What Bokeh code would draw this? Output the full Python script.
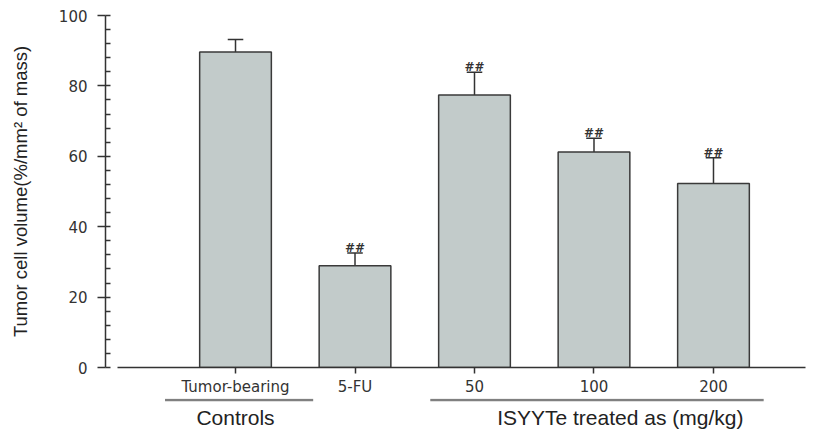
from bokeh.plotting import figure
from bokeh.layouts import column
from bokeh.models import Range1d, FixedTicker, SingleIntervalTicker, ColumnDataSource
from bokeh.core.properties import value
from bokeh.embed import file_html
from bokeh.resources import INLINE

# ---- data ----
categories = ["Tumor-bearing", "5-FU", "50", "100", "200"]
tumor_volume = [89.6, 28.9, 77.4, 61.2, 52.3]
sem = [3.6, 3.6, 6.5, 3.9, 7.3]
significance = ["", "##", "##", "##", "##"]
group_names = ["Controls", "ISYYTe treated as (mg/kg)"]
group_first = [0, 2]
group_last = [0, 4]
y_ticks = [0, 20, 40, 60, 80, 100]

xs = list(range(len(categories)))
err_top = [v + e for v, e in zip(tumor_volume, sem)]

X_START, X_END = -1.088, 4.77
x_range = Range1d(X_START, X_END)
DARK = "#333333"

p = figure(width=820, height=398, x_range=x_range, y_range=Range1d(y_ticks[0], y_ticks[-1]),
           output_backend="svg", toolbar_location=None,
           min_border_left=105, min_border_right=15, min_border_top=15, min_border_bottom=29)
p.outline_line_color = None
p.grid.grid_line_color = None

src = ColumnDataSource(dict(x=xs, top=tumor_volume, err=err_top, sig=significance,
                            cap0=[x - 0.065 for x in xs], cap1=[x + 0.065 for x in xs]))

p.segment(x0="x", y0="top", x1="x", y1="err", source=src, line_color=DARK, line_width=1.5)
p.segment(x0="cap0", y0="err", x1="cap1", y1="err", source=src, line_color=DARK, line_width=1.5)
p.vbar(x="x", top="top", width=0.6, bottom=0, source=src,
       fill_color="#c2cbca", line_color="#3a3a3a", line_width=1.5)
p.text(x="x", y="err", text="sig", source=src, text_align="center", text_baseline="middle",
       y_offset=-5, text_font_size="12px", text_font_style="bold", text_color=DARK,
       text_font=value("DejaVu Sans"))

# y axis
ya = p.yaxis[0]
ya.ticker = SingleIntervalTicker(interval=20, num_minor_ticks=5)
ya.major_tick_out = 8
ya.major_tick_in = 0
ya.minor_tick_in = 5
ya.minor_tick_out = 0
ya.axis_line_width = 1.5
ya.major_tick_line_width = 1.5
ya.minor_tick_line_width = 1.5
ya.axis_line_color = DARK
ya.major_tick_line_color = DARK
ya.minor_tick_line_color = DARK
ya.major_label_text_font = "DejaVu Sans"
ya.major_label_text_font_size = "15px"
ya.major_label_text_color = DARK
ya.major_label_standoff = 10
ya.axis_label = "Tumor cell volume(%/mm\u00b2 of mass)"
ya.axis_label_text_font = "Liberation Sans"
ya.axis_label_text_font_size = "18.5px"
ya.axis_label_text_font_style = "normal"
ya.axis_label_text_color = "#222222"
ya.axis_label_standoff = 25

# x axis
xa = p.xaxis[0]
xa.ticker = FixedTicker(ticks=xs)
xa.major_label_overrides = {i: c for i, c in zip(xs, categories)}
xa.bounds = (-0.99, X_END)
xa.major_tick_out = 6
xa.major_tick_in = 0
xa.minor_tick_line_color = None
xa.axis_line_width = 1.5
xa.major_tick_line_width = 1.5
xa.axis_line_color = DARK
xa.major_tick_line_color = DARK
xa.major_label_text_font = "DejaVu Sans"
xa.major_label_text_font_size = "15px"
xa.major_label_text_color = DARK
xa.major_label_standoff = 4

# group labels below the axis
p2 = figure(width=820, height=33, x_range=x_range, y_range=Range1d(33, 0),
            output_backend="svg", toolbar_location=None,
            x_axis_location=None, y_axis_location=None,
            min_border_left=105, min_border_right=15, min_border_top=0, min_border_bottom=0)
p2.outline_line_color = None
p2.grid.grid_line_color = None
pad_left = [0.59, 0.37]
pad_right = [0.65, 0.42]
label_shift = [0.0, 0.22]
g0 = [f - pl for f, pl in zip(group_first, pad_left)]
g1 = [l + pr for l, pr in zip(group_last, pad_right)]
gsrc = ColumnDataSource(dict(
    x0=g0, x1=g1,
    xc=[(f + l) / 2 + s for f, l, s in zip(group_first, group_last, label_shift)],
    y=[1.5] * len(group_names), ty=[19] * len(group_names), name=group_names))
p2.segment(x0="x0", y0="y", x1="x1", y1="y", source=gsrc, line_color="#808080", line_width=2.5)
p2.text(x="xc", y="ty", text="name", source=gsrc, text_align="center", text_baseline="middle",
        text_font_size="21px", text_color="#222222", text_font=value("Liberation Sans"))

layout = column(p, p2, spacing=0)
open("out.html", "w").write(file_html(layout, INLINE))
